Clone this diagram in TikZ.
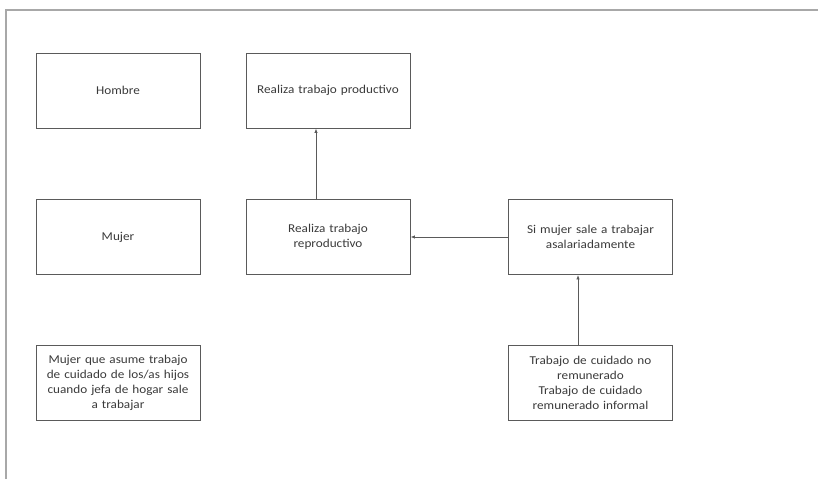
\documentclass[tikz,border=0pt]{standalone}
\usepackage{fontspec}
\setmainfont{Carlito}[FakeStretch=1.1]
\usetikzlibrary{arrows.meta}
\definecolor{boxline}{HTML}{5A5A5A}
\definecolor{txt}{HTML}{3A3A3A}
\definecolor{frame}{HTML}{A8A8A8}
\begin{document}
\begin{tikzpicture}[x=1pt,y=-1pt,
  box/.style={draw=boxline,line width=0.9pt,minimum width=164pt,minimum height=75pt,
    inner sep=2pt,align=center,text=txt,font=\fontsize{12pt}{15pt}\selectfont,text width=158pt},
  conn/.style={draw=boxline,line width=0.8pt,-{Latex[length=4.5pt,width=3.5pt]}}]
\useasboundingbox (0,0) rectangle (818,479);
\draw[frame,line width=1.8pt] (6,479) -- (6,10) -- (818,10);
\node[box] (hombre) at (118,90.5) {Hombre};
\node[box] (prod) at (328,90.5) {Realiza trabajo productivo};
\node[box] (mujer) at (118,237) {Mujer};
\node[box] (repro) at (328,237) {Realiza trabajo\\reproductivo};
\node[box] (si) at (590.5,237) {Si mujer sale a trabajar\\asalariadamente};
\node[box] (asume) at (118,383) {Mujer que asume trabajo\\de cuidado de los/as hijos\\cuando jefa de hogar sale\\a trabajar};
\node[box] (cuidado) at (590.5,383) {Trabajo de cuidado no\\remunerado\\Trabajo de cuidado\\remunerado informal};
\draw[conn] (repro.north -| 316,0) -- (prod.south -| 316,0);
\draw[conn] (si.west) -- (repro.east);
\draw[conn] (cuidado.north -| 578,0) -- (si.south -| 578,0);
\end{tikzpicture}
\end{document}
